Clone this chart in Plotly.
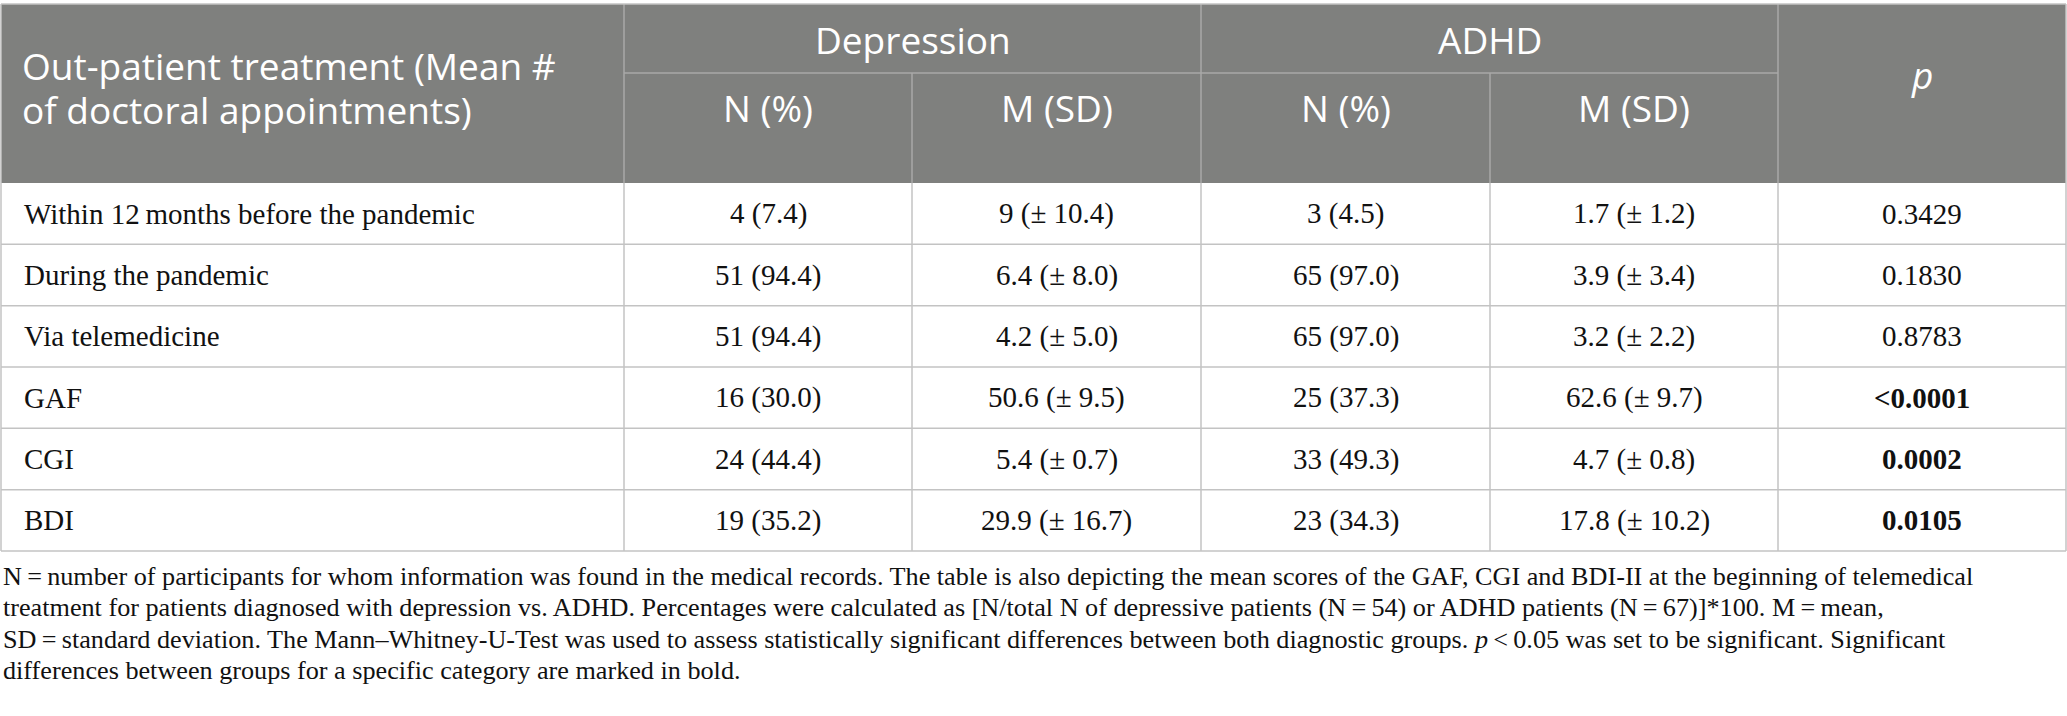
import plotly.graph_objects as go

# table contents
row_labels = [
    "Within 12\u2009months before the pandemic",
    "During the pandemic",
    "Via telemedicine",
    "GAF",
    "CGI",
    "BDI",
]
dep_n = ["4 (7.4)", "51 (94.4)", "51 (94.4)", "16 (30.0)", "24 (44.4)", "19 (35.2)"]
dep_m = ["9 (± 10.4)", "6.4 (± 8.0)", "4.2 (± 5.0)", "50.6 (± 9.5)", "5.4 (± 0.7)", "29.9 (± 16.7)"]
adhd_n = ["3 (4.5)", "65 (97.0)", "65 (97.0)", "25 (37.3)", "33 (49.3)", "23 (34.3)"]
adhd_m = ["1.7 (± 1.2)", "3.9 (± 3.4)", "3.2 (± 2.2)", "62.6 (± 9.7)", "4.7 (± 0.8)", "17.8 (± 10.2)"]
p_values = ["0.3429", "0.1830", "0.8783", "<0.0001", "0.0002", "0.0105"]
p_bold = [False, False, False, True, True, True]

first_header = ["Out-patient treatment (Mean #", "of doctoral appointments)"]
groups = ["Depression", "ADHD"]
sub_headers = ["N (%)", "M (SD)"]

footnote = [
    "N\u2009=\u2009number of participants for whom information was found in the medical records. "
    "The table is also depicting the mean scores of the GAF, CGI and BDI-II at the beginning of telemedical",
    "treatment for patients diagnosed with depression vs. ADHD. Percentages were calculated as "
    "[N/total N of depressive patients (N\u2009=\u200954) or ADHD patients (N\u2009=\u200967)]*100. M\u2009=\u2009mean,",
    "SD\u2009=\u2009standard deviation. The Mann\u2013Whitney-U-Test was used to assess statistically significant "
    "differences between both diagnostic groups. <i>p</i>\u2009<\u20090.05 was set to be significant. Significant",
    "differences between groups for a specific category are marked in bold.",
]

# geometry (pixels)
W, H = 2067, 716
x_edges = [1, 624, 912, 1201, 1490, 1778, 2066]
y_top, y_sub, y_head = 4, 73, 183
row_h = (551 - 183) / len(row_labels)
y_rows = [y_head + i * row_h for i in range(len(row_labels) + 1)]

HEAD_BG = "#7f807e"
HEAD_LINE = "#a9a9a9"
BODY_LINE = "#c3c3c3"
SANS = "Open Sans"
SERIF = "Liberation Serif"

fig = go.Figure()
shapes = []
ann = []

# header block
shapes.append(dict(type="rect", x0=x_edges[0], x1=x_edges[-1], y0=y_top, y1=y_head,
                   fillcolor=HEAD_BG, line=dict(width=0), layer="below"))
# header inner lines
shapes.append(dict(type="line", x0=x_edges[1], x1=x_edges[5], y0=y_sub, y1=y_sub,
                   line=dict(color=HEAD_LINE, width=1.5)))
for i in [1, 3, 5]:
    shapes.append(dict(type="line", x0=x_edges[i], x1=x_edges[i], y0=y_top, y1=y_head,
                       line=dict(color=HEAD_LINE, width=1.5)))
for i in [2, 4]:
    shapes.append(dict(type="line", x0=x_edges[i], x1=x_edges[i], y0=y_sub, y1=y_head,
                       line=dict(color=HEAD_LINE, width=1.5)))

# body grid
for y in y_rows[1:]:
    shapes.append(dict(type="line", x0=x_edges[0], x1=x_edges[-1], y0=y, y1=y,
                       line=dict(color=BODY_LINE, width=1.5)))
for x in x_edges:
    shapes.append(dict(type="line", x0=x, x1=x, y0=y_head, y1=y_rows[-1],
                       line=dict(color=BODY_LINE, width=1.5)))
# outer frame of header
shapes.append(dict(type="line", x0=x_edges[0], x1=x_edges[-1], y0=y_top, y1=y_top,
                   line=dict(color=BODY_LINE, width=1.5)))
for x in [x_edges[0], x_edges[-1]]:
    shapes.append(dict(type="line", x0=x, x1=x, y0=y_top, y1=y_head,
                       line=dict(color=BODY_LINE, width=1.5)))

head_font = dict(family=SANS, size=37, color="white")
body_font = dict(family=SERIF, size=29, color="#111111")


def text(x, y, s, font, xanchor="center"):
    ann.append(dict(x=x, y=y, xref="x", yref="y", text=s, showarrow=False,
                    xanchor=xanchor, yanchor="middle", font=font))


# header text
text(20, 65, first_header[0], head_font, "left")
text(20, 109, first_header[1], head_font, "left")
for g, name in enumerate(groups):
    xc = (x_edges[1 + 2 * g] + x_edges[3 + 2 * g]) / 2
    text(xc, 39, name, head_font)
    for k, sub in enumerate(sub_headers):
        xs = (x_edges[1 + 2 * g + k] + x_edges[2 + 2 * g + k]) / 2
        text(xs, 107, sub, head_font)
text((x_edges[5] + x_edges[6]) / 2, 74, "<i>p</i>", head_font)

# body text
columns = [dep_n, dep_m, adhd_n, adhd_m]
for r, label in enumerate(row_labels):
    yc = (y_rows[r] + y_rows[r + 1]) / 2
    text(22, yc, label, body_font, "left")
    for c, col in enumerate(columns):
        text((x_edges[c + 1] + x_edges[c + 2]) / 2, yc, col[r], body_font)
    pv = "<b>" + p_values[r] + "</b>" if p_bold[r] else p_values[r]
    text((x_edges[5] + x_edges[6]) / 2, yc, pv, body_font)

# footnote
foot_font = dict(family=SERIF, size=26.2, color="#111111")
for i, line in enumerate(footnote):
    text(1, 576 + i * 31.5, line, foot_font, "left")

fig.update_layout(
    width=W, height=H,
    margin=dict(l=0, r=0, t=0, b=0),
    paper_bgcolor="white", plot_bgcolor="white",
    xaxis=dict(range=[0, W], visible=False, fixedrange=True),
    yaxis=dict(range=[H, 0], visible=False, fixedrange=True),
    shapes=shapes, annotations=ann, showlegend=False,
)

fig.write_html("out.html", config={"displayModeBar": False},
               post_script="document.body.style.margin='0';")
